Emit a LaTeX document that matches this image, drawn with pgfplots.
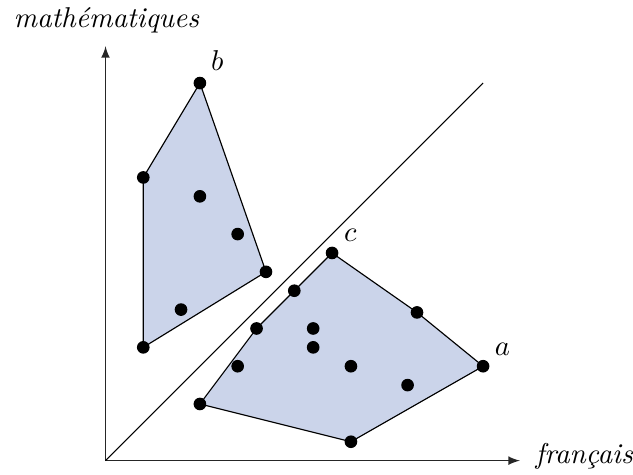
\documentclass[border=0pt]{standalone}
\usepackage{fontspec}
\usepackage{pgfplots}
\pgfplotsset{compat=1.18}
\definecolor{polyfill}{RGB}{203,212,234}
\begin{document}
\begin{tikzpicture}
\begin{axis}[
  x=6.583pt, y=6.583pt,
  xmin=0, xmax=21.95, ymin=0, ymax=21.95,
  axis lines=left,
  axis line style={-latex, line width=0.4pt, black!85},
  xtick=\empty, ytick=\empty,
  clip=false,
]
\path (axis cs:-5.59,-0.745) rectangle (axis cs:27.9,24.4);
% upper group hull
\addplot[draw=black, line width=0.4pt, fill=polyfill] coordinates {(5,20) (8.5,10) (2,6) (2,15)} -- cycle;
% lower group hull
\addplot[draw=black, line width=0.4pt, fill=polyfill] coordinates {(12,11) (16.5,7.85) (20,5) (13,1) (5,3) (8,7) (10,9)} -- cycle;
% diagonal
\addplot[black, line width=0.4pt] coordinates {(0,0) (20,20)};
% points
\addplot[only marks, mark=*, mark size=2pt, black] coordinates {
(5,20) (8.5,10) (2,6) (2,15) (5,14) (7,12) (4,8)
(12,11) (16.5,7.85) (20,5) (13,1) (5,3) (8,7) (10,9)
(11,7) (11,6) (7,5) (13,5) (16,4)
};
\node[anchor=base west, inner sep=0] at (axis cs:20.6,5.56) {$a$};
\node[anchor=base west, inner sep=0] at (axis cs:5.57,20.65) {$b$};
\node[anchor=base west, inner sep=0] at (axis cs:12.61,11.6) {$c$};
\node[anchor=base, inner sep=0] at (axis cs:0.05,22.95) {\textit{mathématiques}};
\node[anchor=base west, inner sep=0] at (axis cs:22.75,-0.16) {\textit{français}};
\end{axis}
\end{tikzpicture}
\end{document}
